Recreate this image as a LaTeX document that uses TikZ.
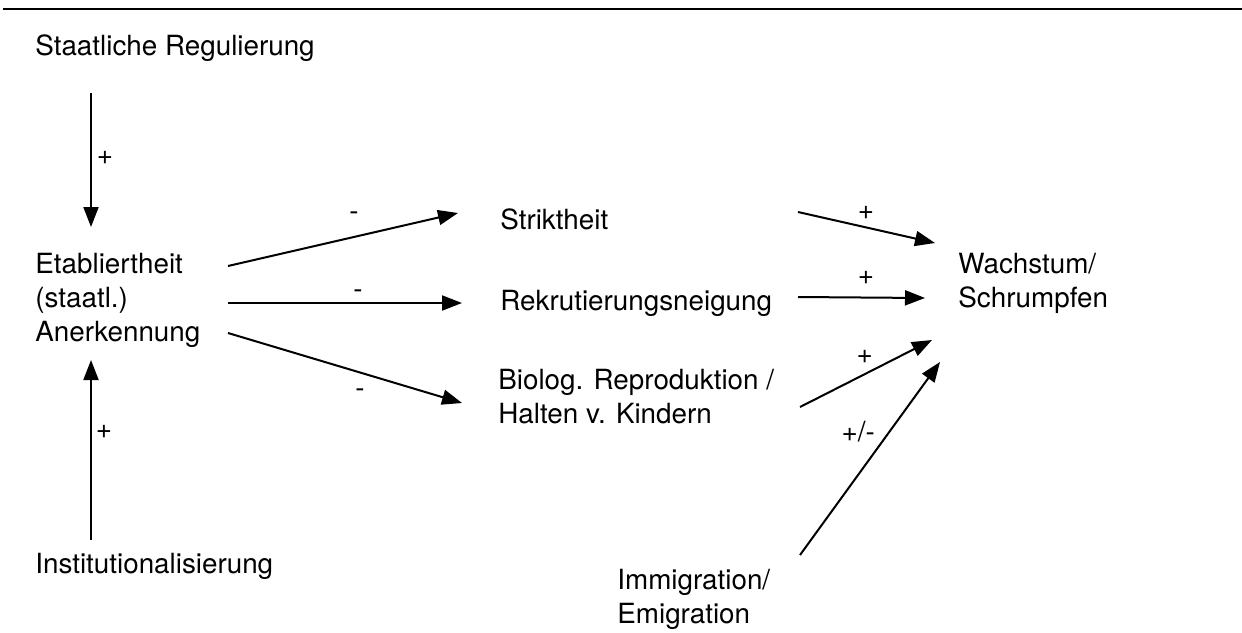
\documentclass[tikz,border=0pt]{standalone}
\usepackage{fontspec}
\setmainfont{TeX Gyre Heros}
\usetikzlibrary{positioning,calc,arrows.meta}

\tikzset{
  box/.style={inner sep=0pt, anchor=west, align=left, font=\fontsize{13.9}{17}\selectfont},
  lbl/.style={inner sep=0pt, font=\fontsize{13.9}{17}\selectfont},
  pfeil/.style={line width=1pt, -{Triangle[length=10pt,width=7.5pt]}},
}

\begin{document}
\begin{tikzpicture}[x=0.5pt,y=-0.5pt]
	\useasboundingbox (0,0) rectangle (1242,632);
	\draw[line width=0.6pt] (3,9) -- (1242,9);
	
	% left column
	\node[box] (reg) at (35,48) {Staatliche Regulierung};
	\node[box] (etab) at (35,300) {Etabliertheit\\(staatl.)\\Anerkennung};
	\node[box] (inst) at (35,566) {Institutionalisierung};
	
	% middle column
	\node[box] (strikt) at (500,219) {Striktheit};
	\node[box] (rekr) at (500,303) {Rekrutierungsneigung};
	\node[box] (biol) at (498,397) {Biolog. Reproduktion /\\Halten v. Kindern};
	\node[box] (immi) at (617,599) {Immigration/\\Emigration};
	
	% right
	\node[box] (wachs) at (958,283) {Wachstum/\\Schrumpfen};
	
	\draw[pfeil] ($(reg.west)+(56,45)$) -- node[lbl, xshift=7pt, yshift=1pt] {+} ($(etab.west)+(56,-73)$);
	\draw[pfeil] ($(inst.west)+(56,-26)$) -- node[lbl, pos=0.6, xshift=6.5pt] {+} ($(etab.west)+(56,60)$);
	
	\draw[pfeil] ($(etab.west)+(193,-34)$) -- node[lbl, pos=0.548, yshift=10.5pt] {-} ($(strikt.west)+(-42,-6)$);
	\draw[pfeil] ($(etab.west)+(193,3)$) -- node[lbl, pos=0.556, yshift=4.5pt] {-} ($(rekr.west)+(-38,0)$);
	\draw[pfeil] ($(etab.west)+(193,33)$) -- node[lbl, pos=0.564, yshift=-10.25pt] {-} ($(biol.west)+(-36,6)$);
	
	\draw[pfeil] ($(strikt.west)+(298,-7)$) -- node[lbl, pos=0.496, yshift=7pt] {+} ($(wachs.west)+(-23,-40)$);
	\draw[pfeil] ($(rekr.west)+(298,-6)$) -- node[lbl, pos=0.535, yshift=9.75pt] {+} ($(wachs.west)+(-33,15)$);
	\draw[pfeil] ($(biol.west)+(302,10)$) -- node[lbl, pos=0.49, yshift=8.5pt] {+} ($(wachs.west)+(-26,57)$);
	\draw[pfeil] ($(immi.west)+(183,-44)$) -- node[lbl, pos=0.637, xshift=-15.5pt] {+/-} ($(wachs.west)+(-18,79)$);
\end{tikzpicture}
\end{document}
